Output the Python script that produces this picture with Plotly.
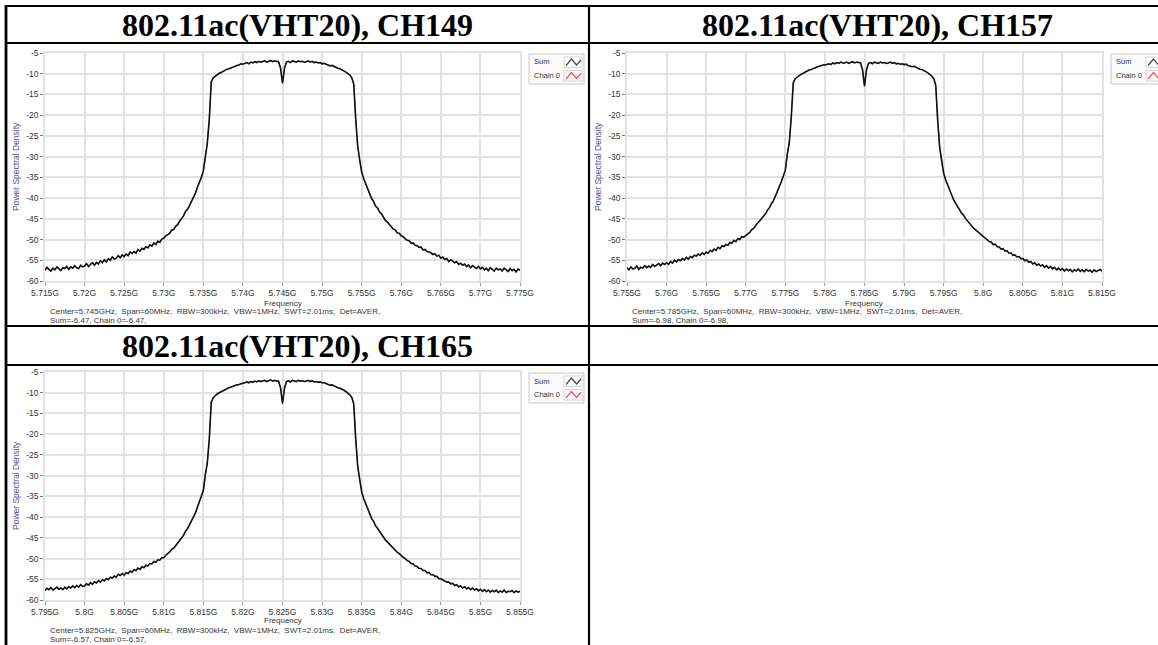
import numpy as np
import plotly.graph_objects as go

W, H = 1158, 645

# ---------------- data ----------------
titles = ["802.11ac(VHT20), CH149", "802.11ac(VHT20), CH157", "802.11ac(VHT20), CH165"]
start_ghz = [5.715, 5.755, 5.795]
stop_ghz = [5.775, 5.815, 5.855]

# PSD readings (dB), sweep points every 0.25 MHz across the 60 MHz span
ch149_psd = [
    -57.4, -56.7, -57.2, -57.6, -56.9, -57.3, -56.6, -57.1, -57.5, -56.8,
    -57.0, -56.5, -57.2, -56.6, -56.9, -56.3, -56.8, -57.0, -56.2, -56.6,
    -56.4, -55.8, -56.5, -56.0, -55.6, -56.2, -55.5, -55.9, -55.1, -55.6,
    -54.9, -55.4, -54.6, -55.0, -54.2, -54.7, -54.5, -53.9, -54.4, -53.7,
    -54.1, -53.5, -53.9, -53.0, -53.4, -52.9, -53.3, -52.4, -52.8, -52.1,
    -52.4, -51.7, -52.0, -51.3, -51.6, -50.8, -51.2, -50.4, -50.7, -49.9,
    -49.7, -49.1, -48.8, -48.5, -47.7, -47.6, -46.8, -46.4, -45.6, -44.9,
    -44.3, -43.2, -42.7, -41.8, -40.9, -40.0, -38.8, -37.4, -36.3, -35.0,
    -33.5, -29.6, -26.8, -21.0, -12.0, -11.0, -10.6, -10.1, -9.9, -9.7,
    -9.4, -9.2, -8.9, -8.8, -8.6, -8.3, -8.2, -8.0, -7.9, -7.6,
    -7.7, -7.5, -7.3, -7.6, -7.2, -7.4, -7.1, -7.3, -7.0, -7.2,
    -7.1, -6.9, -7.2, -7.0, -6.8, -7.1, -6.9, -7.0, -7.1, -8.6,
    -12.3, -8.7, -7.2, -7.0, -7.3, -6.9, -7.1, -7.2, -6.9, -7.1,
    -7.0, -7.2, -7.1, -6.9, -7.2, -7.0, -7.3, -7.2, -7.4, -7.3,
    -7.6, -7.5, -7.7, -7.9, -8.1, -8.0, -8.3, -8.4, -8.7, -8.8,
    -9.0, -9.3, -9.6, -9.9, -10.3, -11.0, -12.5, -21.0, -27.5, -30.8,
    -33.7, -35.3, -36.5, -37.9, -38.9, -40.1, -40.8, -41.9, -42.4, -43.3,
    -43.8, -44.6, -45.4, -45.8, -46.5, -46.9, -47.5, -47.7, -48.4, -48.5,
    -49.1, -49.3, -49.8, -50.2, -50.3, -50.9, -50.8, -51.4, -51.5, -51.9,
    -51.8, -52.5, -52.4, -52.9, -53.0, -53.2, -53.6, -53.4, -54.0, -53.8,
    -54.5, -54.2, -54.8, -54.6, -55.3, -54.9, -55.2, -55.6, -55.3, -56.0,
    -55.7, -56.2, -55.9, -56.5, -56.1, -56.8, -56.3, -56.6, -57.0, -56.5,
    -57.1, -56.7, -57.3, -56.9, -57.5, -56.8, -57.2, -57.6, -56.9, -57.3,
    -57.1, -57.6, -56.9, -57.4, -57.7, -57.0, -57.5, -57.2, -57.8, -57.1,
    -57.4,
]

ch157_psd = [
    -56.8, -57.3, -56.6, -57.1, -56.9, -56.4, -57.2, -56.7, -56.9, -56.3,
    -56.8, -56.4, -56.7, -56.0, -56.5, -56.2, -55.8, -56.3, -55.7, -56.0,
    -55.6, -56.0, -55.3, -55.7, -55.0, -55.4, -54.8, -55.1, -54.6, -54.9,
    -54.3, -54.7, -54.1, -54.4, -53.8, -54.0, -53.5, -53.8, -53.2, -53.6,
    -53.0, -53.3, -52.6, -52.9, -52.3, -52.6, -51.9, -52.2, -51.5, -51.7,
    -51.2, -51.4, -50.7, -50.9, -50.2, -50.5, -49.8, -50.0, -49.3, -49.4,
    -49.0, -48.6, -48.3, -47.6, -47.3, -46.6, -46.0, -45.6, -44.8, -44.3,
    -43.8, -42.9, -42.3, -41.3, -40.6, -39.5, -38.5, -37.2, -36.0, -34.7,
    -33.3, -29.4, -26.6, -20.5, -12.2, -11.2, -10.8, -10.4, -10.1, -9.9,
    -9.6, -9.4, -9.1, -9.0, -8.8, -8.5, -8.4, -8.2, -8.1, -7.9,
    -7.9, -7.7, -7.6, -7.8, -7.4, -7.6, -7.3, -7.5, -7.2, -7.4,
    -7.4, -7.2, -7.5, -7.3, -7.1, -7.4, -7.2, -7.3, -7.4, -9.0,
    -13.0, -9.1, -7.5, -7.3, -7.6, -7.2, -7.4, -7.5, -7.2, -7.4,
    -7.3, -7.5, -7.4, -7.2, -7.5, -7.3, -7.6, -7.5, -7.7, -7.6,
    -7.8, -7.7, -8.0, -8.1, -8.3, -8.2, -8.5, -8.6, -8.9, -9.0,
    -9.2, -9.5, -9.8, -10.1, -10.6, -11.2, -12.8, -21.5, -27.8, -31.0,
    -34.0, -35.6, -36.9, -38.2, -39.3, -40.4, -41.2, -42.2, -42.8, -43.6,
    -44.1, -44.9, -45.5, -46.1, -46.6, -47.2, -47.6, -48.0, -48.5, -48.8,
    -49.3, -49.6, -50.0, -50.5, -50.6, -51.2, -51.1, -51.7, -51.8, -52.3,
    -52.2, -52.8, -52.7, -53.3, -53.2, -53.8, -53.7, -54.2, -54.1, -54.6,
    -54.6, -55.1, -54.9, -55.5, -55.3, -55.9, -55.6, -56.2, -55.9, -56.4,
    -56.1, -56.7, -56.3, -56.9, -56.5, -57.1, -56.7, -57.3, -56.9, -57.4,
    -57.0, -57.6, -57.1, -57.5, -57.2, -57.8, -57.3, -57.6, -57.1, -57.7,
    -57.3, -57.8, -57.2, -57.6, -57.4, -57.9, -57.3, -57.7, -57.5, -57.2,
    -57.6,
]

ch165_psd = [
    -57.7, -57.2, -57.5, -57.0, -57.6, -57.3, -56.9, -57.4, -57.1, -57.5,
    -56.9, -57.3, -56.8, -57.1, -56.6, -57.0, -56.5, -56.9, -56.3, -56.7,
    -56.6, -56.1, -56.4, -55.8, -56.2, -55.6, -55.9, -55.3, -55.7, -55.1,
    -55.4, -54.8, -55.1, -54.5, -54.7, -54.2, -54.5, -53.8, -54.1, -53.6,
    -54.0, -53.4, -53.6, -53.0, -53.3, -52.7, -52.9, -52.3, -52.6, -52.0,
    -52.2, -51.6, -51.8, -51.2, -51.3, -50.7, -50.9, -50.3, -50.4, -49.8,
    -49.8, -49.2, -48.9, -48.4, -47.8, -47.5, -46.9, -46.3, -45.7, -44.9,
    -44.4, -43.4, -42.8, -41.9, -41.0, -40.1, -39.0, -37.6, -36.4, -35.1,
    -33.6, -29.8, -27.0, -21.2, -12.3, -11.2, -10.7, -10.3, -10.0, -9.8,
    -9.5, -9.3, -9.0, -8.8, -8.6, -8.4, -8.3, -8.1, -8.0, -7.8,
    -7.7, -7.6, -7.4, -7.6, -7.3, -7.5, -7.2, -7.4, -7.1, -7.3,
    -7.2, -7.0, -7.3, -7.1, -6.9, -7.2, -7.0, -7.2, -7.2, -8.8,
    -12.6, -8.9, -7.3, -7.1, -7.4, -7.0, -7.2, -7.3, -7.0, -7.2,
    -7.1, -7.3, -7.2, -7.0, -7.3, -7.1, -7.4, -7.3, -7.5, -7.4,
    -7.6, -7.6, -7.8, -8.0, -8.2, -8.1, -8.4, -8.5, -8.8, -8.9,
    -9.1, -9.4, -9.7, -10.0, -10.5, -11.1, -12.7, -21.3, -27.7, -30.9,
    -33.9, -35.5, -36.8, -38.1, -39.2, -40.3, -41.0, -42.1, -42.7, -43.5,
    -44.0, -44.8, -45.5, -46.0, -46.6, -47.1, -47.6, -48.0, -48.5, -48.8,
    -49.3, -49.7, -50.0, -50.5, -50.7, -51.2, -51.3, -51.8, -51.9, -52.4,
    -52.4, -52.9, -52.9, -53.4, -53.4, -53.9, -53.9, -54.3, -54.3, -54.8,
    -54.9, -55.2, -55.3, -55.7, -55.7, -56.1, -56.0, -56.5, -56.3, -56.8,
    -56.6, -57.1, -56.8, -57.3, -57.0, -57.5, -57.1, -57.6, -57.3, -57.8,
    -57.4, -57.9, -57.5, -58.0, -57.6, -58.1, -57.7, -58.0, -57.6, -58.2,
    -57.8, -58.1, -57.6, -58.2, -57.9, -58.0, -57.7, -58.2, -57.8, -58.1,
    -57.9,
]

ch149_ticks = ["5.715G", "5.72G", "5.725G", "5.73G", "5.735G", "5.74G", "5.745G",
               "5.75G", "5.755G", "5.76G", "5.765G", "5.77G", "5.775G"]
ch157_ticks = ["5.755G", "5.76G", "5.765G", "5.77G", "5.775G", "5.78G", "5.785G",
               "5.79G", "5.795G", "5.8G", "5.805G", "5.81G", "5.815G"]
ch165_ticks = ["5.795G", "5.8G", "5.805G", "5.81G", "5.815G", "5.82G", "5.825G",
               "5.83G", "5.835G", "5.84G", "5.845G", "5.85G", "5.855G"]

y_ticks = [-5, -10, -15, -20, -25, -30, -35, -40, -45, -50, -55, -60]

footer_line1 = [
    "Center=5.745GHz,  Span=60MHz,  RBW=300kHz,  VBW=1MHz,  SWT=2.01ms,  Det=AVER,",
    "Center=5.785GHz,  Span=60MHz,  RBW=300kHz,  VBW=1MHz,  SWT=2.01ms,  Det=AVER,",
    "Center=5.825GHz,  Span=60MHz,  RBW=300kHz,  VBW=1MHz,  SWT=2.01ms,  Det=AVER,",
]
footer_line2 = [
    "Sum=-6.47, Chain 0=-6.47,",
    "Sum=-6.98, Chain 0=-6.98,",
    "Sum=-6.57, Chain 0=-6.57,",
]
legend_names = ["Sum", "Chain 0"]

psd_sets = [ch149_psd, ch157_psd, ch165_psd]
tick_sets = [ch149_ticks, ch157_ticks, ch165_ticks]

# ---------------- layout geometry (pixels) ----------------
plot_origins = [(45, 53), (627, 53), (45, 372)]
# (axis title, footer line 1, footer line 2) vertical offsets below plot top
text_offsets = [(250, 258.5, 267.5), (250, 258.5, 267.5), (248, 258, 267.5)]
PW, PH = 475, 228


def fx(x):
    return x / W


def fy(y):
    return 1 - y / H


TXT = "Liberation Sans"
TXT_COLOR = "#353535"
GRID = "#e2e2e2"

fig = go.Figure()
layout_axes = {}
annotations = []
shapes = []

for i in range(3):
    n = i + 1
    L, T = plot_origins[i]
    psd = psd_sets[i]
    freqs = np.linspace(start_ghz[i], stop_ghz[i], len(psd))
    xa = "x" if n == 1 else f"x{n}"
    ya = "y" if n == 1 else f"y{n}"
    # Chain 0 (identical to Sum, drawn underneath)
    fig.add_trace(go.Scatter(x=freqs, y=psd, mode="lines", name=legend_names[1],
                             line=dict(color="#ff5050", width=1), xaxis=xa, yaxis=ya,
                             showlegend=False, hoverinfo="skip"))
    fig.add_trace(go.Scatter(x=freqs, y=psd, mode="lines", name=legend_names[0],
                             line=dict(color="#111111", width=1.6), xaxis=xa, yaxis=ya,
                             showlegend=False))
    tv = [float(t[:-1]) for t in tick_sets[i]]
    layout_axes["xaxis" if n == 1 else f"xaxis{n}"] = dict(
        domain=[fx(L), fx(L + PW)], anchor=ya, range=[start_ghz[i], stop_ghz[i]],
        tickvals=tv, ticktext=tick_sets[i], showgrid=True, gridcolor=GRID, gridwidth=1.5,
        showline=True, mirror=True, linecolor=GRID, linewidth=1.5, zeroline=False,
        ticks="outside", ticklen=3, tickcolor="#999999", tickwidth=1, automargin=False,
        tickfont=dict(family=TXT, size=8.5, color=TXT_COLOR), fixedrange=True,
    )
    layout_axes["yaxis" if n == 1 else f"yaxis{n}"] = dict(
        domain=[fy(T + PH), fy(T)], anchor=xa, range=[-60, -5],
        tickvals=y_ticks, ticktext=[str(v) for v in y_ticks], showgrid=True,
        gridcolor=GRID, gridwidth=1.5, showline=True, mirror=True, linecolor=GRID,
        linewidth=1.5, zeroline=False, ticks="outside", ticklen=3, tickcolor="#777777",
        tickwidth=1, automargin=False,
        tickfont=dict(family=TXT, size=8.5, color=TXT_COLOR), fixedrange=True,
    )
    t_ax, f1, f2 = text_offsets[i]
    # axis titles
    annotations.append(dict(x=fx(L + PW / 2), y=fy(T + t_ax), xref="paper", yref="paper",
                            text="Frequency", showarrow=False, xanchor="center", yanchor="middle",
                            font=dict(family=TXT, size=8, color=TXT_COLOR)))
    annotations.append(dict(x=fx(L - 29), y=fy(T + PH / 2), xref="paper", yref="paper",
                            text="Power Spectral Density", showarrow=False, textangle=-90,
                            xanchor="center", yanchor="middle",
                            font=dict(family=TXT, size=8.5, color="#50509a")))
    # footer
    annotations.append(dict(x=fx(L + 3), y=fy(T + f1), xref="paper", yref="paper",
                            text=footer_line1[i].replace(" ", "\u00a0"), showarrow=False,
                            xanchor="left", yanchor="middle",
                            font=dict(family=TXT, size=8, color=TXT_COLOR)))
    annotations.append(dict(x=fx(L + 3), y=fy(T + f2), xref="paper", yref="paper",
                            text=footer_line2[i].replace(" ", "\u00a0"), showarrow=False,
                            xanchor="left", yanchor="middle",
                            font=dict(family=TXT, size=8, color=TXT_COLOR)))
    # legend box (drawn manually to match icon-on-right style)
    lx, ly = L + PW + 9, T + 1
    shapes.append(dict(type="rect", xref="paper", yref="paper", x0=fx(lx), x1=fx(lx + 55),
                       y0=fy(ly + 30), y1=fy(ly), line=dict(color="#c9c9c9", width=1),
                       fillcolor="#fbfbfb"))
    icon_cols = ["#444444", "#ff4a4a"]
    for k in range(2):
        cy = ly + 8 + k * 13.5
        annotations.append(dict(x=fx(lx + 3), y=fy(cy), xref="paper", yref="paper",
                                text=legend_names[k].replace(" ", "\u00a0"), showarrow=False,
                                xanchor="left", yanchor="middle",
                                font=dict(family=TXT, size=7.5, color=TXT_COLOR)))
        shapes.append(dict(type="rect", xref="paper", yref="paper", x0=fx(lx + 35),
                           x1=fx(lx + 53), y0=fy(cy + 5.5), y1=fy(cy - 5),
                           line=dict(color="#d6d6d6", width=1), fillcolor="#ffffff"))
        pts = [(lx + 37, cy + 3.5), (lx + 42.5, cy - 3), (lx + 47.5, cy + 3), (lx + 52, cy - 2)]
        path = "M " + " L ".join(f"{fx(a):.5f},{fy(b):.5f}" for a, b in pts)
        shapes.append(dict(type="path", xref="paper", yref="paper", path=path,
                           line=dict(color=icon_cols[k], width=1.2)))

# ---------------- table frame ----------------
cell_left, cell_mid, cell_right = 6, 589, 1166
row_lines = [6, 43, 326, 365]
for yv in row_lines:
    shapes.append(dict(type="line", xref="paper", yref="paper", x0=fx(cell_left - 1),
                       x1=fx(cell_right), y0=fy(yv), y1=fy(yv),
                       line=dict(color="#000000", width=2.2)))
shapes.append(dict(type="line", xref="paper", yref="paper", x0=fx(cell_left), x1=fx(cell_left),
                   y0=fy(5), y1=fy(H + 2), line=dict(color="#000000", width=2.8)))
shapes.append(dict(type="line", xref="paper", yref="paper", x0=fx(cell_mid), x1=fx(cell_mid),
                   y0=fy(5), y1=fy(H + 2), line=dict(color="#000000", width=2.2)))

# cell titles
title_pos = [((cell_left + cell_mid) / 2, 25), ((cell_mid + cell_right) / 2, 25),
             ((cell_left + cell_mid) / 2, 346)]
for i in range(3):
    tx, ty = title_pos[i]
    annotations.append(dict(x=fx(tx), y=fy(ty), xref="paper", yref="paper", text=titles[i],
                            showarrow=False, xanchor="center", yanchor="middle",
                            font=dict(family="Liberation Serif", size=32, color="#000000",
                                      weight="bold")))

fig.update_layout(
    width=W, height=H, autosize=False, margin=dict(l=0, r=0, t=0, b=0, pad=0),
    paper_bgcolor="#ffffff", plot_bgcolor="#ffffff", showlegend=False,
    annotations=annotations, shapes=shapes, **layout_axes,
)

fig.write_html("out.html", config={"displayModeBar": False},
               post_script="document.body.style.margin='0';document.body.style.overflow='hidden';")
